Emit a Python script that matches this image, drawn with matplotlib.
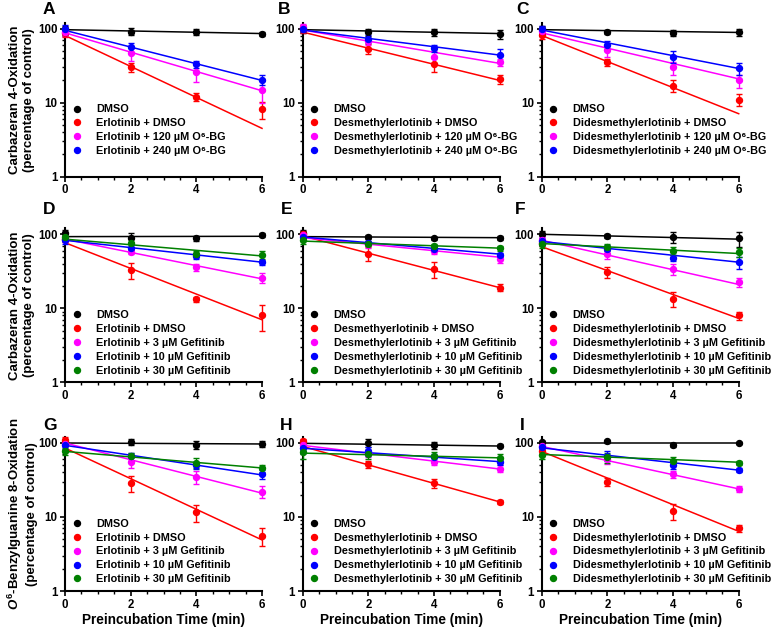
import matplotlib
matplotlib.use("Agg")
import matplotlib.pyplot as plt
from matplotlib.lines import Line2D
from matplotlib.ticker import LogLocator, FixedLocator, NullFormatter, FuncFormatter

plt.rcParams['font.family'] = ['Liberation Sans', 'DejaVu Sans']
plt.rcParams['font.weight'] = 'bold'
plt.rcParams['mathtext.fontset'] = 'custom'
plt.rcParams['mathtext.rm'] = 'Liberation Sans:bold'
plt.rcParams['mathtext.it'] = 'Liberation Sans:italic:bold'
plt.rcParams['mathtext.bf'] = 'Liberation Sans:bold'

time_min = [0, 2, 4, 6]
fit_t = [0, 6]
colors5 = ['black', '#ff0000', '#ff00ff', '#0000ff', '#008000']

# ---- Row 1: Carbazeran 4-oxidation, O6-BG ----
A_labels = ["DMSO", "Erlotinib + DMSO",
            "Erlotinib + 120 µM O⁶-BG", "Erlotinib + 240 µM O⁶-BG"]
A_mean = [[98, 91, 91, 85], [88, 30, 12, 8.1], [90, 47, 26, 15], [98, 56, 33, 20.5]]
A_err = [[12, 10, 8, 5], [10, 4, 1.5, 2], [10, 10, 7, 5], [15, 8, 4, 3]]
A_fit = [[97, 86], [81, 4.5], [88, 14.5], [95, 20]]

B_labels = ["DMSO", "Desmethylerlotinib + DMSO",
            "Desmethylerlotinib + 120 µM O⁶-BG", "Desmethylerlotinib + 240 µM O⁶-BG"]
B_mean = [[98, 90, 90, 85], [100, 53.5, 33, 21], [105, 68, 42, 35.5], [98, 73, 55, 44.5]]
B_err = [[10, 10, 10, 12], [12, 8, 7, 3], [10, 8, 8, 4], [8, 8, 6, 8]]
B_fit = [[97, 86], [90, 20], [96, 34], [96, 44]]

C_labels = ["DMSO", "Didesmethylerlotinib + DMSO",
            "Didesmethylerlotinib + 120 µM O⁶-BG", "Didesmethylerlotinib + 240 µM O⁶-BG"]
C_mean = [[98, 90, 88, 90], [81, 35, 17, 11], [93, 51, 30, 20], [98, 61, 42, 29]]
C_err = [[12, 6, 8, 10], [8, 4, 3, 2], [8, 10, 6, 4], [10, 8, 8, 5]]
C_fit = [[97, 89], [81, 7.1], [88, 21], [96, 29]]

# ---- Row 2: Carbazeran 4-oxidation, gefitinib ----
D_labels = ["DMSO", "Erlotinib + DMSO", "Erlotinib + 3 µM Gefitinib",
            "Erlotinib + 10 µM Gefitinib", "Erlotinib + 30 µM Gefitinib"]
D_mean = [[105, 90, 88, 98], [86, 33, 13.2, 8.0], [86, 58.5, 36, 26], [83, 65, 51, 42], [92, 76, 55, 53]]
D_err = [[10, 15, 6, 6], [8, 8, 1, 3], [8, 5, 4, 4], [8, 8, 5, 3], [10, 15, 5, 6]]
D_fit = [[93, 94], [77, 7], [86, 25], [83, 42], [86, 51]]

E_labels = ["DMSO", "Desmethyerlotinib + DMSO", "Desmethylerlotinib + 3 µM Gefitinib",
            "Desmethylerlotinib + 10 µM Gefitinib", "Desmethylerlotinib + 30 µM Gefitinib"]
E_mean = [[105, 92, 88, 90], [102, 55, 34, 19], [98, 73, 60, 46], [92, 77, 64, 53], [83, 75, 69, 65]]
E_err = [[10, 5, 5, 5], [10, 12, 8, 2], [8, 8, 5, 5], [8, 5, 5, 3], [8, 5, 5, 5]]
E_fit = [[93, 90], [95, 19], [90, 49], [92, 54], [81, 65]]

F_labels = ["DMSO", "Didesmethylerlotinib + DMSO", "Didesmethylerlotinib + 3 µM Gefitinib",
            "Didesmethylerlotinib + 10 µM Gefitinib", "Didesmethylerlotinib + 30 µM Gefitinib"]
F_mean = [[102, 95, 92, 88], [77, 31, 13.5, 8.0], [83, 54, 34, 22.5], [80, 63, 48, 42], [73, 67, 60, 57]]
F_err = [[8, 5, 15, 20], [8, 5, 3, 1], [8, 8, 6, 3], [8, 8, 5, 8], [8, 8, 8, 8]]
F_fit = [[100, 86], [68, 7.3], [83, 21], [80, 42], [75, 55]]

# ---- Row 3: O6-benzylguanine 8-oxidation, gefitinib ----
G_labels = ["DMSO", "Erlotinib + DMSO", "Erlotinib + 3 µM Gefitinib",
            "Erlotinib + 10 µM Gefitinib", "Erlotinib + 30 µM Gefitinib"]
G_mean = [[103, 103, 95, 97], [111, 29, 11.6, 5.5], [97, 56, 35, 22], [93, 66, 50, 38], [77, 66, 54, 46]]
G_err = [[10, 10, 12, 8], [10, 7, 3, 1.5], [10, 10, 7, 4], [10, 8, 6, 5], [8, 8, 8, 5]]
G_fit = [[100, 97], [85.5, 4.9], [100, 21], [93, 37], [77, 46]]

H_labels = ["DMSO", "Desmethylerlotinib + DMSO", "Desmethylerlotinib + 3 µM Gefitinib",
            "Desmethylerlotinib + 10 µM Gefitinib", "Desmethylerlotinib + 30 µM Gefitinib"]
H_mean = [[100, 100, 93, 92], [105, 52, 29, 16], [93, 73, 56, 45], [85, 77, 64, 56], [76, 71, 66, 63]]
H_err = [[10, 12, 10, 5], [8, 6, 4, 1], [10, 8, 6, 5], [12, 10, 8, 5], [15, 10, 10, 8]]
H_fit = [[99, 91], [90, 16], [93, 44.5], [85, 56], [73, 63]]

I_labels = ["DMSO", "Didesmethylerlotinib + DMSO", "Didesmethylerlotinib + 3 µM Gefitinib",
            "Didesmethylerlotinib + 10 µM Gefitinib", "Didesmethylerlotinib + 30 µM Gefitinib"]
I_mean = [[103, 105, 95, 100], [79, 30, 12, 7.0], [90, 60, 38, 24], [88, 67, 50, 43], [69, 64, 58, 54]]
I_err = [[5, 5, 6, 4], [8, 4, 3, 0.7], [8, 8, 4, 2], [8, 10, 6, 3], [8, 10, 6, 3]]
I_fit = [[100, 100], [77, 6.4], [90, 24], [86, 43], [70, 55]]

panels = [
    ("A", A_labels, A_mean, A_err, A_fit),
    ("B", B_labels, B_mean, B_err, B_fit),
    ("C", C_labels, C_mean, C_err, C_fit),
    ("D", D_labels, D_mean, D_err, D_fit),
    ("E", E_labels, E_mean, E_err, E_fit),
    ("F", F_labels, F_mean, F_err, F_fit),
    ("G", G_labels, G_mean, G_err, G_fit),
    ("H", H_labels, H_mean, H_err, H_fit),
    ("I", I_labels, I_mean, I_err, I_fit),
]

ylabels = ["Carbazeran 4-Oxidation\n(percentage of control)",
           "Carbazeran 4-Oxidation\n(percentage of control)",
           "$\\mathit{O}^{\\mathrm{6}}$-Benzylguanine 8-Oxidation\n(percentage of control)"]
xlabel_text = "Preincubation Time (min)"

W, H = 772, 628
fig = plt.figure(figsize=(W / 100, H / 100), dpi=100)

col_left = [65, 302.7, 541.7]
col_w = 197
row_bottom = [176.7, 382.3, 591]
ytop = 120
ax_h = 74 * 2.0792
letter_pos = [(43, 10), (278, 10), (516, 10),
              (43, 210), (281, 210), (515, 210),
              (43, 426), (280, 426), (520, 426)]

for i, (letter, labels, means, errs, fits) in enumerate(panels):
    r, c = divmod(i, 3)
    ax = fig.add_axes([col_left[c] / W, 1 - row_bottom[r] / H, col_w / W, ax_h / H])
    ax.set_yscale('log')
    ax.set_xlim(0, 6)
    ax.set_ylim(1, ytop)
    handles = []
    for k, lab in enumerate(labels):
        col = colors5[k]
        ax.plot(fit_t, fits[k], color=col, lw=1.1, zorder=2, clip_on=False)
        ax.errorbar(time_min, means[k], yerr=errs[k], fmt='o', color=col, ms=4.3,
                    elinewidth=1.0, capsize=2.5, capthick=1.0, zorder=3, clip_on=False)
        handles.append(Line2D([], [], marker='o', ls='', color=col, ms=4.3))
    for s in ['top', 'right']:
        ax.spines[s].set_visible(False)
    for s in ['left', 'bottom']:
        ax.spines[s].set_linewidth(1.5)
    ax.xaxis.set_major_locator(FixedLocator([0, 2, 4, 6]))
    ax.xaxis.set_minor_locator(FixedLocator([0.5, 1, 1.5, 2.5, 3, 3.5, 4.5, 5, 5.5]))
    ax.yaxis.set_major_locator(FixedLocator([1, 10, 100]))
    ax.yaxis.set_minor_locator(LogLocator(base=10, subs=range(2, 10)))
    ax.yaxis.set_minor_formatter(NullFormatter())
    ax.yaxis.set_major_formatter(FuncFormatter(lambda v, p: f"{v:g}"))
    ax.tick_params(which='major', direction='out', length=3.5, width=1.2, labelsize=8.3, pad=2)
    ax.tick_params(which='minor', direction='out', length=2, width=1.0)
    for t in ax.get_xticklabels() + ax.get_yticklabels():
        t.set_fontweight('bold')
    ax.legend(handles, labels, loc='upper left', bbox_to_anchor=(0.0, 0.47),
              frameon=False, fontsize=7.8, handlelength=2.15, handletextpad=0.7,
              borderpad=0, borderaxespad=0, labelspacing=0.36)
    lx, ly = letter_pos[i]
    fig.text(lx / W, 1 - ly / H, letter, fontsize=12.5, fontweight='bold', ha='left', va='center')
    if c == 0:
        yc = row_bottom[r] - ax_h / 2
        fig.text(22 / W, 1 - yc / H, ylabels[r], rotation=90, ha='center', va='center',
                 multialignment='center', fontsize=9.5, fontweight='bold', linespacing=1.25)
    if r == 2:
        ax.set_xlabel(xlabel_text, fontsize=9.8, fontweight='bold', labelpad=2)

fig.savefig("out.png", dpi=100)
